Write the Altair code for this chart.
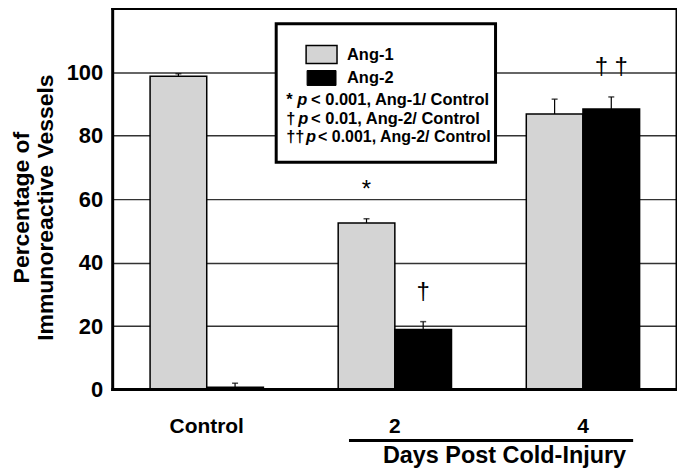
import altair as alt
import pandas as pd

# ---- data ----
groups = ["Control", "2", "4"]
series = ["Ang-1", "Ang-2"]
ang1_mean = [98.7, 52.5, 86.8]
ang1_err = [0.8, 1.3, 4.7]
ang2_mean = [0.7, 18.9, 88.4]
ang2_err = [1.3, 2.5, 3.8]
ang1_sig = ["", "*", ""]
ang2_sig = ["", "†", "† †"]

legend_sym = ["*", "†", "††"]
legend_rest = ["< 0.001, Ang-1/ Control", "< 0.01, Ang-2/ Control", "< 0.001, Ang-2/ Control"]

FONT = "Liberation Sans"
W, H = 566, 382

rows = []
for i, g in enumerate(groups):
    rows.append(dict(group=g, series="Ang-1", mean=ang1_mean[i], upper=ang1_mean[i] + ang1_err[i],
                     sig=ang1_sig[i], sig_y=ang1_mean[i] + ang1_err[i] + 9))
    rows.append(dict(group=g, series="Ang-2", mean=ang2_mean[i], upper=ang2_mean[i] + ang2_err[i],
                     sig=ang2_sig[i], sig_y=ang2_mean[i] + ang2_err[i] + 9))
df = pd.DataFrame(rows)

x_enc = alt.X("group:N", sort=groups,
              scale=alt.Scale(paddingInner=0, paddingOuter=0),
              axis=alt.Axis(title=None, domain=False, ticks=False, labelAngle=0, labelFontSize=21,
                            labelFontWeight="bold", labelFont=FONT, labelColor="black",
                            labelPadding=43, labelBaseline="alphabetic", grid=False))
xo_enc = alt.XOffset("series:N", sort=series, scale=alt.Scale(paddingOuter=0.66, paddingInner=0))
y_scale = alt.Scale(domain=[0, 120], nice=False)
y_axis = alt.Axis(values=[0, 20, 40, 60, 80, 100], grid=True, gridColor="#333333", gridWidth=1.5,
                  domain=False, ticks=False, labelFontSize=22, labelFontWeight="bold", labelFont=FONT,
                  labelColor="black", labelPadding=10,
                  title=["Percentage of", "Immunoreactive Vessels"], titleFontSize=23,
                  titleFontWeight="bold", titleFont=FONT, titleColor="black", titleLineHeight=24,
                  titleX=-79, titleY=199, titleBaseline="bottom", titleAngle=270)

base = alt.Chart(df).encode(x=x_enc, xOffset=xo_enc)

bars = base.mark_bar(stroke="black", strokeWidth=1.5).encode(
    y=alt.Y("mean:Q", scale=y_scale, axis=y_axis),
    fill=alt.Fill("series:N", scale=alt.Scale(domain=series, range=["#d4d4d4", "#000000"]), legend=None),
)
err = base.mark_rule(color="black", strokeWidth=1.2).encode(y="mean:Q", y2="upper:Q")
cap = base.mark_tick(color="black", size=6, thickness=1.5).encode(y="upper:Q")
sig = base.transform_filter(alt.datum.sig != "").mark_text(
    fontSize=24, baseline="middle", font=FONT, color="black").encode(y="sig_y:Q", text="sig:N")

one = pd.DataFrame({"k": [0]})


def txt(s, x, y, size=16.5, style="normal", align="left", baseline="middle", weight="bold"):
    return alt.Chart(one).mark_text(text=s, fontSize=size, fontWeight=weight, fontStyle=style,
                                    font=FONT, align=align, baseline=baseline, color="black").encode(
        x=alt.value(x), y=alt.value(y))


def block(x1, y1, x2, y2):
    return alt.Chart(one).mark_rect(fill="black", strokeWidth=0).encode(
        x=alt.value(x1), x2=alt.value(x2), y=alt.value(y1), y2=alt.value(y2))


frame = [block(-1.5, -1, 1.5, H + 1.5), block(W - 1.5, -1, W + 1.5, H + 1.5),
         block(-1.5, H - 1.5, W + 1.5, H + 1.5), block(-1.5, -1, W + 1.5, 1.2)]

box = alt.Chart(one).mark_rect(fill="white", stroke="black", strokeWidth=3).encode(
    x=alt.value(164), x2=alt.value(384), y=alt.value(15), y2=alt.value(154))
sw1 = alt.Chart(one).mark_rect(fill="#d4d4d4", stroke="black", strokeWidth=1.5).encode(
    x=alt.value(194), x2=alt.value(225), y=alt.value(37), y2=alt.value(55))
sw2 = alt.Chart(one).mark_rect(fill="black", stroke="black", strokeWidth=1).encode(
    x=alt.value(195), x2=alt.value(224), y=alt.value(62), y2=alt.value(77))

legend_layers = [box, sw1, sw2,
                 txt(series[0], 235, 46), txt(series[1], 235, 70)]
row_y = [92, 111, 129]
p_x = [185, 186, 194]
rest_x = [199, 199, 206]
rest_size = [16.5, 16.5, 16]
for i in range(3):
    legend_layers.append(txt(legend_sym[i], 174, row_y[i]))
    legend_layers.append(txt("p", p_x[i], row_y[i], style="italic"))
    legend_layers.append(txt(legend_rest[i], rest_x[i], row_y[i], size=rest_size[i]))

days_rule = block(237, 431.5, 522, 434.5)
days_text = txt("Days Post Cold-Injury", 393, 456, size=23.5, align="center", baseline="alphabetic")

chart = alt.layer(bars, err, cap, sig, *legend_layers, *frame, days_rule, days_text).properties(
    width=W, height=H,
    background="white",
    autosize=alt.AutoSizeParams(type="none"),
    padding={"left": 105, "top": 0, "right": 0, "bottom": 85},
).configure_view(strokeWidth=0, stroke="transparent")

chart.save("out.html", embed_options={"renderer": "svg", "actions": False})
